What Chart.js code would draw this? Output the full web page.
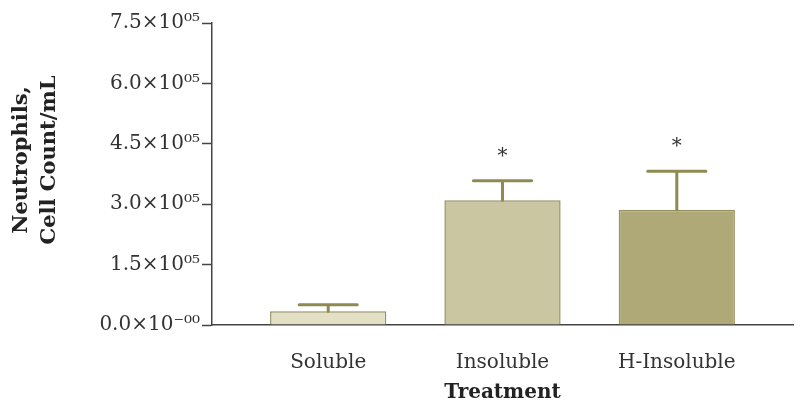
<!DOCTYPE html>
<html>
<head>
<meta charset="utf-8">
<script src="https://cdn.jsdelivr.net/npm/chart.js@4.4.1/dist/chart.umd.min.js"></script>
<style>
  html, body { margin: 0; padding: 0; background: #fff; }
  #wrap { width: 800px; height: 410px; }
</style>
</head>
<body>
<div id="wrap"><canvas id="neutroChart" width="800" height="410"></canvas></div>
<script>
// --- data ---
const categories = ['Soluble', 'Insoluble', 'H-Insoluble'];
const meanValues = [34000, 310000, 286000];
const errorValues = [16000, 48000, 96000];
const significant = [false, true, true];
const yTicks = [0, 150000, 300000, 450000, 600000, 750000];

const barColors = ['#e4e0c6', '#c9c6a1', '#aea977'];
const barBorder = '#969063';
const errColor = '#8f8a52';
const textColor = '#333333';
const serif = "'DejaVu Serif', 'Liberation Serif', serif";

function sciLabel(v) {
    if (v === 0) return '0.0\u00d710\u207b\u2070\u2070';
    return (v / 1e5).toFixed(1) + '\u00d710\u2070\u2075';
}

// error bars (upper only) + significance stars
const errorBarPlugin = {
    id: 'errorBars',
    afterDatasetsDraw(chart) {
        const ctx = chart.ctx;
        const yScale = chart.scales.y;
        const meta = chart.getDatasetMeta(0);
        ctx.save();
        meta.data.forEach((bar, i) => {
            const topY = yScale.getPixelForValue(meanValues[i] + errorValues[i]);
            const half = bar.width / 4;
            ctx.strokeStyle = errColor;
            ctx.lineWidth = 3;
            ctx.lineCap = 'round';
            ctx.beginPath();
            ctx.moveTo(bar.x, bar.y);
            ctx.lineTo(bar.x, topY);
            ctx.moveTo(bar.x - half, topY);
            ctx.lineTo(bar.x + half, topY);
            ctx.stroke();
            if (significant[i]) {
                ctx.fillStyle = textColor;
                ctx.font = '20px ' + serif;
                ctx.textAlign = 'center';
                ctx.textBaseline = 'middle';
                ctx.fillText('*', bar.x, topY - 24);
            }
        });
        ctx.restore();
    }
};

// y axis title, two bold lines
const yTitlePlugin = {
    id: 'yTitle',
    afterDraw(chart) {
        const ctx = chart.ctx;
        ctx.save();
        ctx.translate(0, 160);
        ctx.rotate(-Math.PI / 2);
        ctx.fillStyle = '#222';
        ctx.font = 'bold 21px ' + serif;
        ctx.textAlign = 'center';
        ctx.textBaseline = 'middle';
        ctx.fillText('Neutrophils,', 0, 22);
        ctx.fillText('Cell Count/mL', 0, 50);
        ctx.restore();
    }
};

new Chart(document.getElementById('neutroChart'), {
    type: 'bar',
    data: {
        datasets: [{
            data: meanValues.map((v, i) => ({ x: i, y: v })),
            backgroundColor: barColors,
            borderColor: barBorder,
            borderWidth: 1.5,
            categoryPercentage: 1,
            barPercentage: 0.667
        }]
    },
    options: {
        responsive: false,
        animation: false,
        layout: { padding: { top: 23, right: 7, left: 0, bottom: 0 } },
        plugins: {
            legend: { display: false },
            tooltip: { enabled: false }
        },
        scales: {
            x: {
                type: 'linear',
                offset: false,
                min: -2 / 3,
                max: categories.length - 1 + 2 / 3,
                afterBuildTicks: scale => {
                    scale.ticks = categories.map((c, i) => ({ value: i }));
                },
                afterFit: scale => { scale.height = 85; },
                ticks: {
                    callback: v => categories[v],
                    color: textColor,
                    font: { family: serif, size: 20 },
                    padding: 18,
                    maxRotation: 0
                },
                grid: { display: false },
                border: { display: true, color: '#444', width: 1.5 },
                title: {
                    display: true,
                    text: 'Treatment',
                    color: '#222',
                    font: { family: serif, size: 20, weight: 'bold' },
                    padding: { top: 0, bottom: 5 }
                }
            },
            y: {
                min: 0,
                max: yTicks[yTicks.length - 1],
                afterBuildTicks: scale => {
                    scale.ticks = yTicks.map(v => ({ value: v }));
                },
                afterFit: scale => { scale.width = 212; },
                ticks: {
                    callback: v => sciLabel(v),
                    color: textColor,
                    font: { family: serif, size: 20 },
                    padding: 2
                },
                grid: {
                    drawOnChartArea: false,
                    drawTicks: true,
                    tickLength: 10,
                    tickColor: '#444',
                    tickWidth: 1.5
                },
                border: { display: true, color: '#444', width: 1.5 }
            }
        }
    },
    plugins: [errorBarPlugin, yTitlePlugin]
});
</script>
</body>
</html>
